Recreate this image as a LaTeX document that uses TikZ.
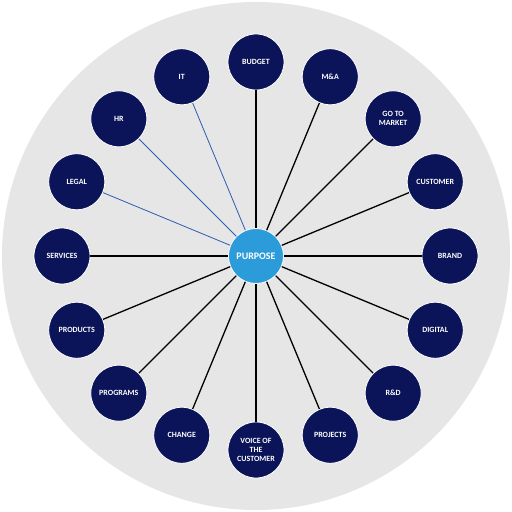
\documentclass[tikz,border=0pt]{standalone}
\usepackage{fontspec}
\setmainfont{Carlito}
\usetikzlibrary{positioning}
\definecolor{navy}{HTML}{0B1458}
\definecolor{sky}{HTML}{2B9BD9}
\definecolor{ring}{HTML}{E6E6E6}
\definecolor{linkblue}{HTML}{2F5CB0}

\begin{document}
\begin{tikzpicture}[
  x=1bp, y=1bp,
  topic/.style={circle, draw=white, line width=0.8bp, fill=navy, text=white,
                minimum size=56bp, inner sep=1bp, align=center,
                font=\fontsize{8}{9}\selectfont\bfseries},
  hub/.style={topic, fill=sky, minimum size=55bp,
              font=\fontsize{10}{12}\selectfont\bfseries},
  spoke/.style={line width=1.3bp, black},
  thinspoke/.style={line width=0.8bp, linkblue}
]
\useasboundingbox (-256,-256) rectangle (256,256);
\fill[ring] (0,0) circle (254);

\node[hub] (purpose) at (0,0) {PURPOSE};

\foreach \ang/\name/\txt in {90/budget/BUDGET, 67.5/ma/M\&A, 45/gtm/{GO TO\\MARKET},
    22.5/customer/CUSTOMER, 0/brand/BRAND, -22.5/digital/DIGITAL, -45/rnd/R\&D,
    -67.5/projects/PROJECTS, -90/voc/{VOICE OF\\THE\\CUSTOMER}, -112.5/change/CHANGE,
    -135/programs/PROGRAMS, -157.5/products/PRODUCTS, 180/services/SERVICES,
    157.5/legal/LEGAL, 135/hr/HR, 112.5/it/IT}
  \node[topic] (\name) at (\ang:194) {\txt};

% spokes
\foreach \name in {budget,ma,gtm,customer,brand,digital,rnd,projects,voc,change,programs,products,services}
  \draw[spoke] (purpose) -- (\name);
\foreach \name in {legal,hr,it}
  \draw[thinspoke] (purpose) -- (\name);

\end{tikzpicture}
\end{document}
